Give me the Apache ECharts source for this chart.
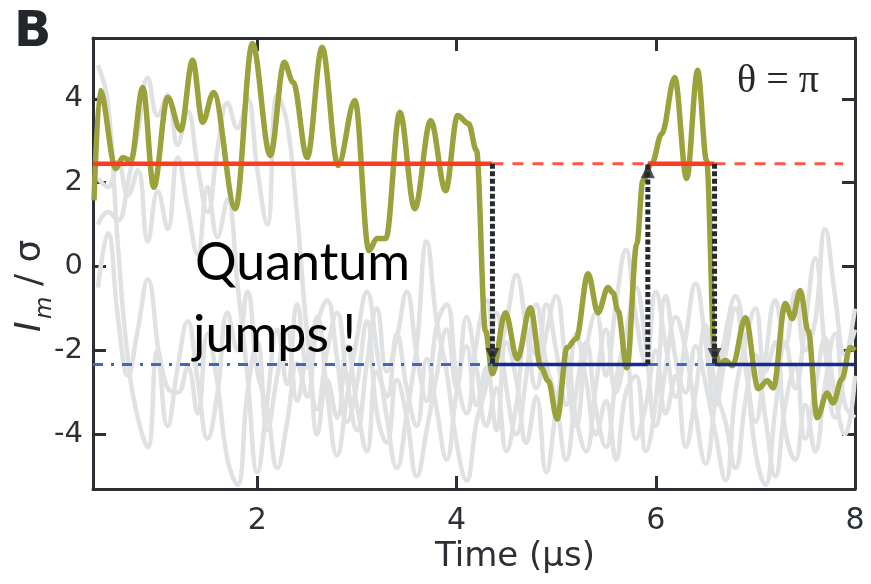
<!DOCTYPE html>
<html>
<head>
<meta charset="utf-8">
<script src="https://cdn.jsdelivr.net/npm/echarts@6/dist/echarts.min.js"></script>
<style>
  html, body { margin: 0; padding: 0; background: #fff; }
  #chart { width: 871px; height: 584px; }
</style>
</head>
<body>
<div id="chart"></div>
<script>
// Axis ranges and tick positions
const xRange = [0.35, 8];
const yRange = [-5.3, 5.45];
const xTicks = [2, 4, 6, 8];
const yTicks = [-4, -2, 0, 2, 4];

// Background trajectories (light grey), sampled every 0.1 µs
const grayTime = [0.4,0.5,0.6,0.7,0.8,0.9,1.0,1.1,1.2,1.3,1.4,1.5,1.6,1.7,1.8,1.9,2.0,2.1,2.2,2.3,2.4,2.5,2.6,2.7,2.8,2.9,3.0,3.1,3.2,3.3,3.4,3.5,3.6,3.7,3.8,3.9,4.0,4.1,4.2,4.3,4.4,4.5,4.6,4.7,4.8,4.9,5.0,5.1,5.2,5.3,5.4,5.5,5.6,5.7,5.8,5.9,6.0,6.1,6.2,6.3,6.4,6.5,6.6,6.7,6.8,6.9,7.0,7.1,7.2,7.3,7.4,7.5,7.6,7.7,7.8,7.9,8.0];
const grayA = [4.8,3.9,0.5,-2.2,-3.6,-4.3,-2.0,-2.9,-3.0,-2.4,-3.5,-1.6,-2.8,-4.6,-5.2,-3.0,-1.8,-3.9,-2.6,-1.5,-3.2,-2.1,-4.0,-2.7,-3.6,-1.9,-3.3,-4.4,-2.5,-3.1,-1.6,-2.9,-3.8,-2.2,-3.4,-4.6,-3.0,-1.9,-3.3,-2.4,-3.9,-1.8,-2.7,-4.2,-3.1,-4.9,-3.4,-2.1,-3.6,-4.4,-2.8,-1.5,-3.0,-2.2,-4.1,-3.3,-2.0,-3.5,-2.6,-4.3,-3.0,-1.4,-2.9,-3.7,-4.8,-3.2,-2.1,-3.6,-5.0,-3.3,-2.4,-4.1,-2.9,-1.7,-3.1,-4.0,-2.6];
const grayB = [1.0,1.3,1.1,2.0,3.2,4.5,3.6,4.1,2.9,3.7,2.4,1.3,2.8,3.9,3.3,4.0,2.3,1.0,4.1,3.4,1.2,-1.6,-3.4,-2.0,-1.1,-2.7,-3.9,-2.3,-1.0,-2.5,-1.7,-0.6,-2.1,-3.2,-1.4,-0.9,-2.6,-3.5,-1.8,-0.8,-2.2,-1.3,-0.2,-1.5,-2.9,-1.6,-0.7,-2.4,-3.8,-2.0,-1.1,-2.6,-0.9,0.4,-1.2,-2.3,-0.6,-1.9,-3.1,-1.7,-0.4,-1.8,-3.3,-2.1,-1.0,-2.4,-3.7,-2.2,-0.8,-1.9,-0.6,-2.0,-1.3,0.9,-0.7,-2.1,-1.5];
const grayC = [2.1,1.9,2.5,1.7,2.3,0.6,1.8,0.9,2.6,1.4,0.3,1.9,0.7,1.6,-0.4,-2.6,-4.9,-3.2,-1.5,-2.8,-0.9,-2.4,-1.2,-3.0,-4.5,-3.1,-1.7,-0.6,-2.0,-3.6,-4.8,-3.5,-1.9,0.6,-1.3,-2.5,-4.2,-5.1,-3.7,-2.8,-1.1,-2.9,-4.0,-2.6,-0.9,-2.3,-3.2,-4.6,-3.0,-1.8,-3.4,-4.3,-2.7,-1.6,-0.5,-1.9,-3.8,-2.4,-1.2,-2.0,-3.5,-4.7,-3.1,-1.6,-0.7,-2.2,-4.4,-5.2,-3.4,-1.8,-2.9,-1.4,0.2,-2.0,-3.6,-2.4,-1.0];
const grayD = [-0.5,0.8,-1.2,-2.6,-1.5,-0.3,-1.9,-3.8,-2.4,-1.3,-2.7,-4.1,-3.0,-1.1,-2.0,-0.6,-2.5,-3.4,-4.8,-3.7,-2.3,-3.1,-1.4,-0.8,-2.2,-3.7,-2.8,-1.3,-3.5,-4.2,-2.7,-3.6,-5.0,-3.9,-2.6,-1.5,-2.9,-1.2,-2.4,-3.8,-2.9,-4.4,-3.3,-1.7,-2.1,-0.9,-2.0,-3.3,-1.6,-2.7,-4.0,-3.2,-4.6,-3.0,-2.6,-4.4,-3.2,-0.7,-2.2,-3.0,-1.9,-2.8,-4.0,-5.1,-3.0,-1.8,-1.0,-2.5,-1.8,-3.9,-4.6,-3.3,-4.4,-2.8,-1.6,-3.3,-3.6];

// Highlighted trajectory I_m/σ versus time (µs)
const traceTime = [0.36,0.42,0.58,0.65,0.73,0.85,0.96,1.10,1.23,1.35,1.45,1.56,1.78,1.95,2.13,2.27,2.36,2.50,2.65,2.81,2.98,3.12,3.20,3.29,3.43,3.58,3.74,3.89,4.01,4.12,4.20,4.29,4.36,4.49,4.61,4.74,4.85,4.92,5.01,5.11,5.20,5.32,5.42,5.52,5.57,5.62,5.71,5.81,5.87,5.96,6.06,6.19,6.31,6.42,6.51,6.59,6.64,6.70,6.77,6.90,7.03,7.12,7.18,7.30,7.37,7.45,7.53,7.62,7.72,7.78,7.87,7.95,8.00];
const traceValue = [1.58,4.20,2.34,2.60,2.53,4.27,1.89,4.03,3.25,4.92,3.44,4.15,1.38,5.32,2.65,4.87,4.39,2.60,5.23,2.41,3.96,0.38,0.67,0.67,3.68,1.38,3.48,1.81,3.60,3.41,2.77,-1.53,-2.55,-1.10,-2.20,-0.98,-2.41,-2.72,-3.63,-1.93,-1.72,-0.17,-1.10,-0.50,-0.62,-1.05,-2.41,0.55,2.05,2.46,3.17,4.51,2.10,4.68,2.53,-2.00,-2.32,-2.24,-2.36,-1.22,-2.91,-2.72,-2.89,-0.88,-1.24,-0.57,-1.53,-3.60,-3.01,-3.25,-2.67,-1.93,-2.00];

// State levels and jump instants
const brightLevel = 2.45;
const darkLevel = -2.33;
const jumpTimes = [4.36, 5.92, 6.59];
const brightDashEnd = 7.88;

const AXIS_COLOR = '#2c3035';
const AXIS_FONT = 'DejaVu Sans';

function zip(xs, ys) { return xs.map((x, i) => [x, ys[i]]); }

function segment(name, x0, x1, level, color, width, type, z) {
  return {
    name, type: 'line', silent: true, showSymbol: false, symbol: 'none', z,
    data: [[x0, level], [x1, level]],
    lineStyle: { color, width, type, cap: 'butt' }
  };
}

function grayTrace(name, values) {
  return {
    name, type: 'line', silent: true, showSymbol: false, symbol: 'none', z: 1,
    smooth: 0.45,
    data: zip(grayTime, values),
    lineStyle: { color: '#dfe1e3', width: 4.5 }
  };
}

function jumpArrow(name, t, from, to) {
  return [{
    name, type: 'line', silent: true, showSymbol: false, symbol: 'none', z: 6,
    data: [[t, from], [t, to]],
    lineStyle: { color: '#26292e', width: 5, type: [5, 2.5], cap: 'butt' }
  }, {
    name: name + ' head', type: 'scatter', silent: true, z: 7,
    symbol: 'triangle', symbolSize: [14, 15],
    symbolRotate: to < from ? 180 : 0,
    symbolOffset: [0, to < from ? -9 : 7],
    data: [[t, to]],
    itemStyle: { color: '#26292e' }
  }];
}

const series = [
  grayTrace('trajectory 1', grayA),
  grayTrace('trajectory 2', grayB),
  grayTrace('trajectory 3', grayC),
  grayTrace('trajectory 4', grayD),
  {
    name: 'I_m', type: 'line', silent: true, showSymbol: false, symbol: 'none', z: 3,
    smooth: 0.35, smoothMonotone: 'x',
    data: zip(traceTime, traceValue),
    lineStyle: { color: '#9ba23c', width: 5.5 }
  },
  // bright state level
  segment('bright', xRange[0], jumpTimes[0], brightLevel, '#ff3a1e', 4.5, 'solid', 4),
  segment('bright dashed 1', jumpTimes[0], jumpTimes[1], brightLevel, '#ff5446', 3, [11, 9], 4),
  segment('bright 2', jumpTimes[1], jumpTimes[2], brightLevel, '#ff3a1e', 4.5, 'solid', 4),
  segment('bright dashed 2', jumpTimes[2], brightDashEnd, brightLevel, '#ff5446', 3, [11, 9], 4),
  // dark state level
  segment('dark dashed 1', xRange[0], jumpTimes[0], darkLevel, '#3e69c2', 3, [10, 8, 3, 8], 4),
  segment('dark', jumpTimes[0], jumpTimes[1], darkLevel, '#162b8a', 3.5, 'solid', 4),
  segment('dark dashed 2', jumpTimes[1], jumpTimes[2], darkLevel, '#3e69c2', 3, [10, 8, 3, 8], 4),
  segment('dark 2', jumpTimes[2], xRange[1], darkLevel, '#162b8a', 3.5, 'solid', 4),
  ...jumpArrow('jump 1', jumpTimes[0], brightLevel, darkLevel),
  ...jumpArrow('jump 2', jumpTimes[1], darkLevel, brightLevel),
  ...jumpArrow('jump 3', jumpTimes[2], brightLevel, darkLevel)
];

const axisLine = { show: true, onZero: false, lineStyle: { color: AXIS_COLOR, width: 3 } };
const tickStyle = { color: AXIS_COLOR, width: 3 };

const option = {
  animation: false,
  backgroundColor: '#ffffff',
  grid: { left: 93, right: 16, top: 38, bottom: 95, containLabel: false },
  xAxis: [{
    type: 'value', position: 'bottom', min: xRange[0], max: xRange[1],
    axisLine,
    axisTick: { show: true, inside: true, length: 13, lineStyle: tickStyle, customValues: xTicks },
    axisLabel: { show: true, customValues: xTicks, fontFamily: AXIS_FONT, fontSize: 30, color: AXIS_COLOR, margin: 17 },
    splitLine: { show: false }
  }, {
    type: 'value', position: 'top', min: xRange[0], max: xRange[1],
    axisLine,
    axisTick: { show: true, inside: true, length: 13, lineStyle: tickStyle, customValues: xTicks },
    axisLabel: { show: false },
    splitLine: { show: false }
  }],
  yAxis: [{
    type: 'value', position: 'left', min: yRange[0], max: yRange[1],
    axisLine,
    axisTick: { show: true, inside: true, length: 13, lineStyle: tickStyle, customValues: yTicks },
    axisLabel: { show: true, customValues: yTicks, fontFamily: AXIS_FONT, fontSize: 29, color: AXIS_COLOR, margin: 10 },
    splitLine: { show: false }
  }, {
    type: 'value', position: 'right', min: yRange[0], max: yRange[1],
    axisLine,
    axisTick: { show: true, inside: true, length: 13, lineStyle: tickStyle, customValues: yTicks },
    axisLabel: { show: false },
    splitLine: { show: false }
  }],
  series,
  graphic: [
    { type: 'text', z: 20, style: { x: 14, y: 9, text: 'B', font: 'bold 49px "DejaVu Sans"', fill: '#23272c', verticalAlign: 'top' } },
    { type: 'text', z: 20, style: { x: 737, y: 81, text: 'θ = π', font: '40px "Liberation Serif"', fill: '#2a2623', verticalAlign: 'middle' } },
    { type: 'text', z: 20, style: { x: 515, y: 557, text: 'Time (μs)', font: '34px "DejaVu Sans"', fill: AXIS_COLOR, align: 'center', verticalAlign: 'middle' } },
    {
      type: 'group', x: 49, y: 332, rotation: Math.PI / 2, z: 20,
      children: [
        { type: 'text', style: { x: 0, y: 0, text: 'I', font: 'italic 36px "DejaVu Sans"', fill: AXIS_COLOR, verticalAlign: 'bottom' } },
        { type: 'text', style: { x: 13, y: 8, text: 'm', font: 'italic 23px "DejaVu Sans"', fill: AXIS_COLOR, verticalAlign: 'bottom' } },
        { type: 'text', style: { x: 46, y: 0, text: '/ σ', font: '36px "DejaVu Sans"', fill: AXIS_COLOR, verticalAlign: 'bottom' } }
      ]
    },
    { type: 'text', z: 20, style: { x: 195, y: 263, text: 'Quantum', font: '52px Lato', fill: '#000000', verticalAlign: 'middle' } },
    { type: 'text', z: 20, style: { x: 193, y: 335, text: 'jumps !', font: '52px Lato', fill: '#000000', verticalAlign: 'middle' } }
  ]
};

const chart = echarts.init(document.getElementById('chart'), null, { renderer: 'canvas' });
chart.setOption(option);
</script>
</body>
</html>
